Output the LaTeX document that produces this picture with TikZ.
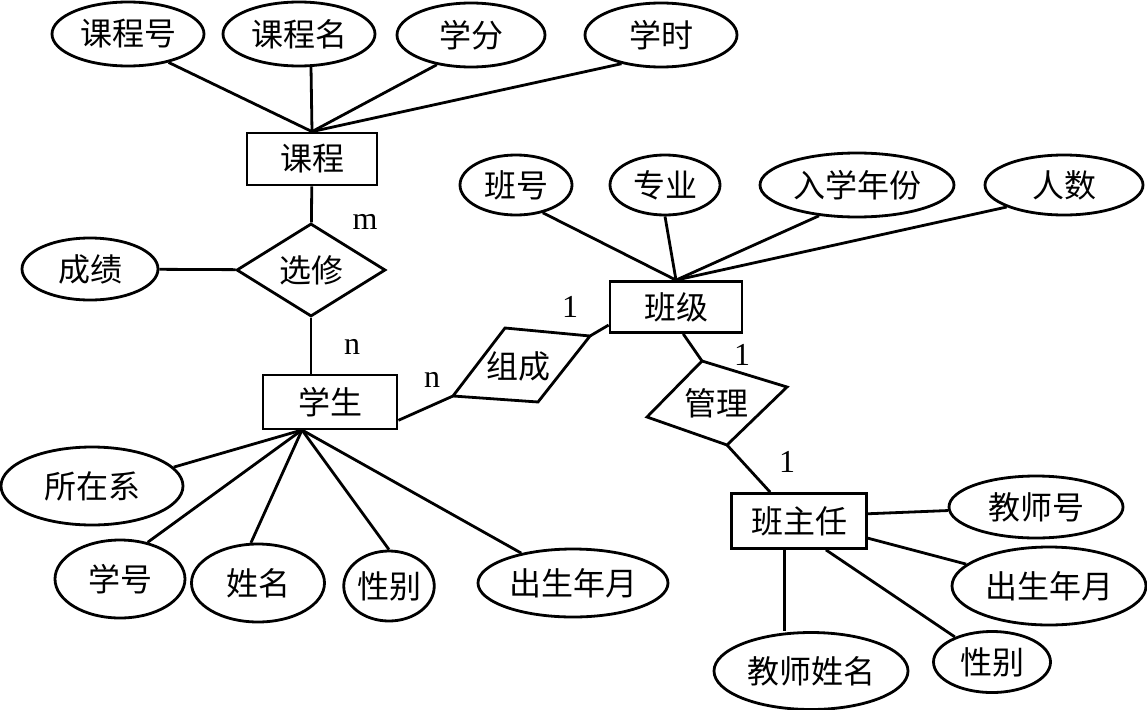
\documentclass[tikz,border=0pt]{standalone}
\usepackage{fontspec}
\setmainfont{Liberation Serif}
\newfontfamily\cjk{Noto Sans CJK SC}
\usetikzlibrary{shapes.geometric}

\begin{document}
\begin{tikzpicture}[x=1pt,y=-1pt,line width=2.8pt,
  every node/.style={font=\fontsize{32}{38}\selectfont\cjk},
  attr/.style={draw,ellipse,inner sep=0pt,minimum height=62pt},
  ent/.style={draw,rectangle,inner sep=0pt,minimum width=132pt,minimum height=52pt},
  card/.style={font=\fontsize{32}{38}\selectfont\rmfamily}]
\useasboundingbox (0,0) rectangle (1147,709);
% 课程
\node[ent,minimum width=130pt] (kc) at (312,159) {课程};
\node[attr,minimum width=152pt,minimum height=64pt] (kch) at (128,34) {课程号};
\node[attr,minimum width=152pt,minimum height=64pt] (kcm) at (299,34) {课程名};
\node[attr,minimum width=148pt,minimum height=64pt] (xf) at (471,35) {学分};
\node[attr,minimum width=152pt,minimum height=64pt] (xshi) at (661,35) {学时};
\draw (kch.-35)--(kc.north); \draw (kcm.-70)--(kc.north); \draw (xf.-139)--(kc.north); \draw (xshi.-144)--(kc.north);
% 选修
\node[draw,diamond,aspect=1.6,inner sep=0pt,minimum width=149pt,minimum height=93pt] (xx) at (311,270) {选修};
\node[attr,minimum width=136pt] (cj) at (90,269) {成绩};
\draw (kc)--(xx); \draw (cj)--(xx);
\node[card] (m1) at (365,222) {m};
% 学生
\node[ent,minimum width=134pt,minimum height=54pt] (xsh) at (330,402) {学生};
\draw (xx.south)--(xx.south |- xsh.north);
\node[card] (n1) at (352,347) {n};
\coordinate (xsb) at (302,430);
\node[attr,minimum width=182pt,minimum height=78pt] (szx) at (92,486) {所在系};
\node[attr,minimum width=130pt,minimum height=78pt] (xh) at (120,579) {学号};
\node[attr,minimum width=133pt,minimum height=78pt] (xm) at (258,583) {姓名};
\node[attr,minimum width=88pt,minimum height=70pt] (xb) at (389,586) {性别};
\node[attr,minimum width=190pt,minimum height=68pt] (csny) at (573,583) {出生年月};
\draw (xsb)--(szx.13); \draw (xsb)--(xh.53); \draw (xsb)--(xm.100); \draw (xsb)--(xb.north); \draw (xsb)--(csny.150);
% 组成
\coordinate (zc1) at (505,328); \coordinate (zc2) at (590,336);
\coordinate (zc3) at (538,402); \coordinate (zc4) at (453,396);
\draw (zc1)--(zc2)--(zc3)--(zc4)--cycle;
\node (zc) at (518,366) {组成};
\node[card] (n2) at (432,380) {n};
\node[card] (o1) at (570,307) {1};
% 班级
\node[ent,minimum width=132pt,minimum height=51pt] (bj) at (676,307) {班级};
\draw (xsh.-15)--(zc4); \draw (zc2)--(bj.195);
\node[attr,minimum width=112pt,minimum height=60pt] (bh) at (516,185) {班号};
\node[attr,minimum width=110pt,minimum height=60pt] (zy) at (665,185) {专业};
\node[attr,minimum width=194pt,minimum height=64pt] (rxnf) at (857,185) {入学年份};
\node[attr,minimum width=158pt,minimum height=60pt] (rs) at (1064,185) {人数};
\draw (bh.-46)--(bj.north); \draw (zy.south)--(bj.north); \draw (rxnf.-141)--(bj.north); \draw (rs.-159)--(bj.north);
% 管理
\coordinate (gl1) at (702,361); \coordinate (gl2) at (787,387);
\coordinate (gl3) at (727,445); \coordinate (gl4) at (647,417);
\draw (gl1)--(gl2)--(gl3)--(gl4)--cycle;
\node (gl) at (716,403) {管理};
\draw (bj.-75)--(gl1);
\node[card] (o2) at (742,355) {1};
% 班主任
\node[ent,minimum width=135pt,minimum height=55pt] (bzr) at (799,521) {班主任};
\draw (gl3)--(bzr.135);
\node[card] (o3) at (787,462) {1};
\node[attr,minimum width=174pt,minimum height=62pt] (jsh) at (1036,507) {教师号};
\node[attr,minimum width=194pt,minimum height=78pt] (csny2) at (1049,586) {出生年月};
\node[attr,minimum width=117pt,minimum height=61pt] (xb2) at (992,662) {性别};
\node[attr,minimum width=194pt,minimum height=77pt] (jsxm) at (811,671) {教师姓名};
\draw (bzr.6)--(jsh); \draw (bzr.-14)--(csny2); \draw (bzr.-47)--(xb2);
\draw (bzr.-117)--(bzr.-117 |- jsxm.north);
\end{tikzpicture}
\end{document}
